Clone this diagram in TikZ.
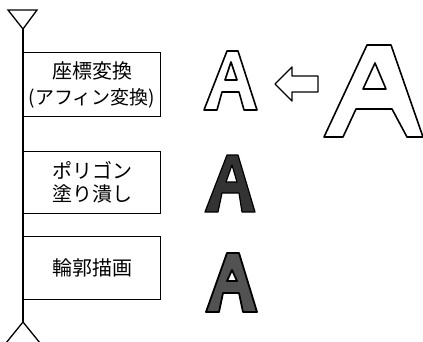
\documentclass[tikz,border=0pt]{standalone}
\usepackage{fontspec}
\newfontfamily\jp{Noto Sans CJK JP}
\begin{document}
\begin{tikzpicture}[x=1pt,y=-1pt,
  stepbox/.style={draw=black,line width=1.3pt,rectangle,minimum width=137pt,anchor=north west,inner sep=0pt,align=center,font=\jp\fontsize{20}{23}\selectfont},
  marker/.style={draw=black,line width=1.3pt,fill=white},
  outlineA/.style={draw=black,line width=1.6pt,line join=round},
  solidA/.style={draw=black,line width=1.2pt,even odd rule,line join=round}]
\useasboundingbox (0,0) rectangle (423,341);
% flow line
\coordinate (top) at (23,29);
\coordinate (bot) at (23,322);
\draw[line width=1.3pt] (top) -- (bot);
\draw[marker] (top) -- (8,10) -- (37,10) -- cycle;
\draw[marker] (bot) -- (6,343) -- (40,343) -- cycle;
% boxes
\node[stepbox,minimum height=64pt] (b1) at (23,52) {座標変換\\[3pt]{\fontsize{19}{20}\selectfont(アフィン変換)}};
\node[stepbox,minimum height=62pt] (b2) at (23,151) {ポリゴン\\塗り潰し};
\node[stepbox,minimum height=63pt] (b3) at (23,236) {輪郭描画};
% small outline A
\draw[outlineA] (204,110) -- (227,51) -- (238,51) -- (257,110) -- (244,110) -- (239,92) -- (222,92) -- (217,110) -- cycle;
\draw[outlineA] (231,62) -- (237,80) -- (225,80) -- cycle;
% hollow arrow
\draw[outlineA,line width=1.4pt] (275,84) -- (292,67) -- (292,76) -- (318,76) -- (318,92) -- (292,92) -- (292,101) -- cycle;
% large outline A
\draw[outlineA] (324,137) -- (367,45) -- (391,45) -- (423,137) -- (407,137) -- (392,109) -- (356,109) -- (343,137) -- cycle;
\draw[outlineA] (375,63) -- (386,89) -- (363,89) -- cycle;
% filled A 1
\path[solidA,fill=black!80] (205,212) -- (227,155) -- (238,155) -- (255,212) -- (242,212) -- (239,193) -- (222,193) -- (218,212) -- cycle
  (232,165) -- (237,182) -- (226,182) -- cycle;
% filled A 2
\path[solidA,fill=black!68,line width=1.8pt] (206,312) -- (227,253) -- (239,253) -- (257,312) -- (243,312) -- (239,293) -- (223,293) -- (219,312) -- cycle
  (232,270) -- (237,281) -- (227,281) -- cycle;
\end{tikzpicture}
\end{document}
